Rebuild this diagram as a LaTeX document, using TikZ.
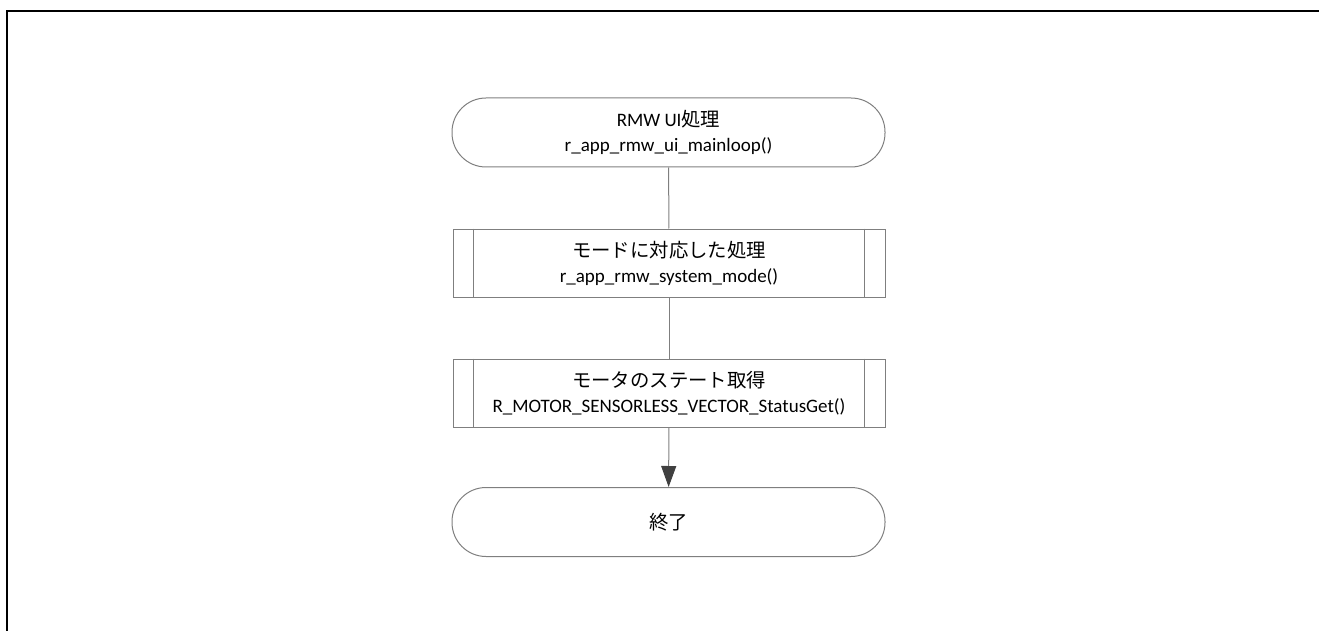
\documentclass[tikz,border=0pt]{standalone}
\usepackage{fontspec}
\setmainfont{Carlito}
\newfontfamily\jp[Scale=1.02]{Noto Sans CJK JP}
\usetikzlibrary{arrows.meta}
\definecolor{linegray}{HTML}{7F7F7F}
\definecolor{arrowgray}{HTML}{404040}
\tikzset{
  x=1pt,y=-1pt,
  termbox/.style={draw=linegray,line width=1pt,rectangle,rounded corners=34pt,
    minimum width=433pt,minimum height=69pt,align=center,inner sep=0pt,
    font=\fontsize{19}{25}\selectfont},
  procbox/.style={draw=linegray,line width=1pt,rectangle,
    minimum width=432pt,minimum height=68pt,align=center,inner sep=0pt,
    font=\fontsize{19}{25}\selectfont},
  conn/.style={draw=linegray,line width=1pt},
  arr/.style={conn,-{Triangle[length=21pt,width=15pt,fill=arrowgray,color=arrowgray]}},
  frameline/.style={line width=2.5pt,black}
}
\begin{document}
\begin{tikzpicture}
\useasboundingbox (0,0) rectangle (1319,631);
\draw[frameline] (7,631) -- (7,11) -- (1319,11);
\node[termbox] (start) at (668.5,132.5) {RMW UI{\jp 処理}\\r\_app\_rmw\_ui\_mainloop()};
\node[procbox] (p1) at (669,263) {{\jp モードに対応した処理}\\r\_app\_rmw\_system\_mode()};
\node[procbox] (p2) at (669,393) {{\jp モータのステート取得}\\R\_MOTOR\_SENSORLESS\_VECTOR\_StatusGet()};
\node[termbox] (stop) at (668.5,522) {{\jp 終了}};
\foreach \n in {p1,p2}{
  \draw[conn] ([xshift=21pt]\n.north west) -- ([xshift=21pt]\n.south west);
  \draw[conn] ([xshift=-21pt]\n.north east) -- ([xshift=-21pt]\n.south east);
}
\draw[conn] (start) -- (p1);
\draw[conn] (p1) -- (p2);
\draw[arr] (p2) -- (stop);
\end{tikzpicture}
\end{document}
